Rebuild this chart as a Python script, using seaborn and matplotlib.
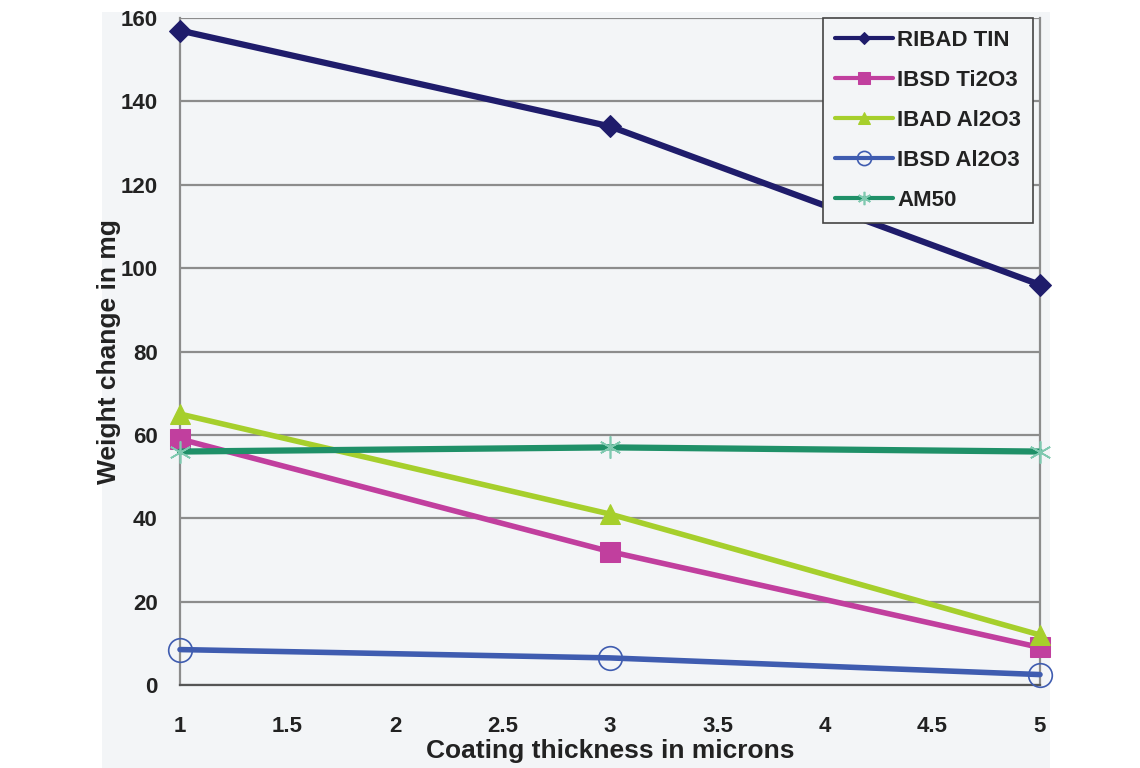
import matplotlib
matplotlib.use("Agg")
import matplotlib.pyplot as plt
from matplotlib.patches import Rectangle
import seaborn as sns
import pandas as pd

# data
thickness = [1, 3, 5]
ribad_tin = [157, 134, 96]
ibsd_ti2o3 = [59, 32, 9]
ibad_al2o3 = [65, 41, 12]
ibsd_al2o3 = [8.5, 6.5, 2.5]
am50 = [56, 57, 56]
series_names = ["RIBAD TIN", "IBSD Ti2O3", "IBAD Al2O3", "IBSD Al2O3", "AM50"]
x_ticks = [1, 1.5, 2, 2.5, 3, 3.5, 4, 4.5, 5]
x_ticklabels = ["1", "1.5", "2", "2.5", "3", "3.5", "4", "4.5", "5"]
y_ticks = [0, 20, 40, 60, 80, 100, 120, 140, 160]

sns.set_theme(style="white")
plt.rcParams['font.family'] = ['Liberation Sans', 'DejaVu Sans']

fig = plt.figure(figsize=(11.4, 7.68), dpi=100)
fig.patch.set_facecolor("white")
# light panel behind the chart
fig.patches.append(Rectangle((102 / 1140, 0), (1050 - 102) / 1140, 1 - 12 / 768,
                             transform=fig.transFigure, facecolor="#f3f5f7",
                             edgecolor="none", zorder=-5))

ax = fig.add_axes([180 / 1140, 1 - 685 / 768, 860 / 1140, (685 - 18) / 768])
ax.set_facecolor("#f3f5f7")

styles = [
    dict(color="#1f1c6b", marker="D", ms=11, lw=4.5, mfc="#1f1c6b", mec="#1f1c6b"),
    dict(color="#c13f9e", marker="s", ms=14, lw=4, mfc="#c13f9e", mec="#c13f9e"),
    dict(color="#a6cf2c", marker="^", ms=15, lw=4, mfc="#a6cf2c", mec="#a6cf2c"),
    dict(color="#3f5cb0", marker="o", ms=17, lw=4, mfc="none", mec="#3f5cb0", mew=1.2),
    dict(color="#1f9068", marker=(6, 2, 0), ms=16, lw=4.5, mfc="#1f9068", mec="#7fc9b0", mew=1.2),
]
values = [ribad_tin, ibsd_ti2o3, ibad_al2o3, ibsd_al2o3, am50]

for name, vals, st in zip(series_names, values, styles):
    df = pd.DataFrame({"x": thickness, "y": vals})
    sns.lineplot(data=df, x="x", y="y", ax=ax, label=name, clip_on=False, zorder=4, **st)

ax.set_xlim(1, 5)
ax.set_ylim(0, 160)
ax.set_xticks(x_ticks)
ax.set_xticklabels(x_ticklabels)
ax.set_yticks(y_ticks)
ax.yaxis.grid(True, color="#8c8c8c", lw=1.6)
ax.xaxis.grid(False)
for s in ["left", "right"]:
    ax.spines[s].set_color("#8c8c8c")
    ax.spines[s].set_linewidth(1.6)
ax.spines["bottom"].set_color("#555555")
ax.spines["bottom"].set_linewidth(1.6)
ax.spines["top"].set_visible(False)

ax.tick_params(axis="y", length=6, width=1.2, color="#666666", pad=10, labelsize=16)
ax.tick_params(axis="x", length=5, width=1.2, color="#666666", pad=20, labelsize=16,
               direction="inout")
for lbl in ax.get_xticklabels() + ax.get_yticklabels():
    lbl.set_fontweight("bold")
    lbl.set_color("#222222")

ax.set_xlabel("Coating thickness in microns", fontsize=19, fontweight="bold", labelpad=1,
              color="#222222")
ax.set_ylabel("Weight change in mg", fontsize=19, fontweight="bold", labelpad=0,
              color="#222222")

leg = ax.legend(loc="upper right", bbox_to_anchor=(0.992, 1.0), fontsize=16, frameon=True,
                fancybox=False, edgecolor="#444444", facecolor="#f3f5f7", framealpha=1,
                handlelength=2.6, handletextpad=0.2, labelspacing=0.85, borderpad=0.55,
                markerscale=0.6, borderaxespad=0.0)
leg.get_frame().set_linewidth(1.2)
for t in leg.get_texts():
    t.set_fontweight("bold")
    t.set_color("#222222")
for h in leg.get_lines():
    h.set_linewidth(3)

fig.savefig("out.png", dpi=100)
